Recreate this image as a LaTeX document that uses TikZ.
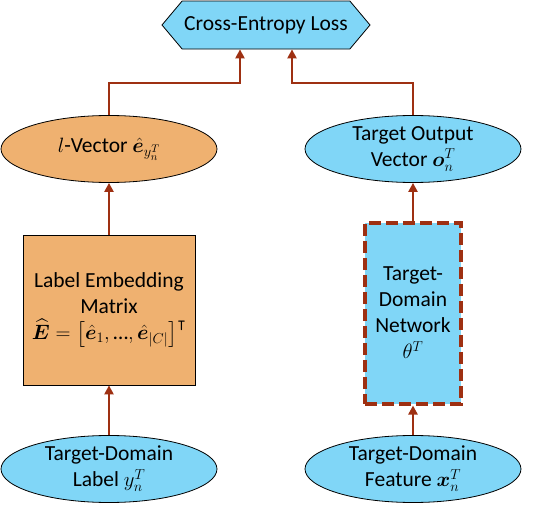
\documentclass[tikz,border=0pt]{standalone}
\usepackage{amsmath,amssymb,bm}
\usepackage{fontspec}
\setmainfont{Carlito}
\usetikzlibrary{arrows.meta, shapes.geometric, shapes.symbols}
\definecolor{laranja}{RGB}{239, 177, 112}
\definecolor{azulclaro}{RGB}{128, 214, 247}
\definecolor{ferrugem}{RGB}{158, 48, 18}

\begin{document}
\begin{tikzpicture}[x=1pt, y=-1pt,
                every node/.style={draw, line width=0.8pt, align=center, inner sep=0pt,
                    font=\fontsize{21.5}{26}\selectfont},
                blob/.style={ellipse, minimum width=216pt, minimum height=67pt},
                arrow/.style={-{Triangle[length=9pt, width=9pt]}, line width=2.6pt, color=ferrugem}
            ]
                \useasboundingbox (0,0) rectangle (542,506);
                \node (loss) [signal, signal to=west and east, signal pointer angle=100,
                    minimum width=208pt, minimum height=48pt, fill=azulclaro] at (266,25) {Cross-Entropy Loss};
                \node (lvec) [blob, fill=laranja]   at (109,149) {$l$-Vector $\hat{\bm{e}}_{y_n^T}$};
                \node (out)  [blob, fill=azulclaro] at (413,149) {Target Output\\Vector $\bm{o}_n^T$};
                \node (emb)  [minimum width=172pt, minimum height=150pt, fill=laranja] at (109,310)
                    {Label Embedding\\Matrix\\$\widehat{\bm{E}}=\big[\hat{\bm{e}}_1,\text{\ldots},\hat{\bm{e}}_{|C|}\big]^{\intercal}$};
                \node (net)  [minimum width=96pt, minimum height=181pt, fill=azulclaro, draw=ferrugem,
                    line width=4pt, dash pattern=on 12pt off 5pt] at (413,313)
                    {Target-\\Domain\\Network\\$\theta^T$};
                \node (lab)  [blob, fill=azulclaro] at (109,469) {Target-Domain\\Label $y_n^T$};
                \node (feat) [blob, fill=azulclaro] at (413,469) {Target-Domain\\Feature $\bm{x}_n^T$};
                \draw[arrow] (lab)  -- (emb);
                \draw[arrow] (emb)  -- (lvec);
                \draw[arrow] (feat) -- (net);
                \draw[arrow] (net)  -- (out);
                \draw[arrow] (lvec.north) -- ++(0,-32) -| ([xshift=-26pt]loss.south);
                \draw[arrow] (out.north)  -- ++(0,-32) -| ([xshift=26pt]loss.south);
            \end{tikzpicture}
\end{document}
